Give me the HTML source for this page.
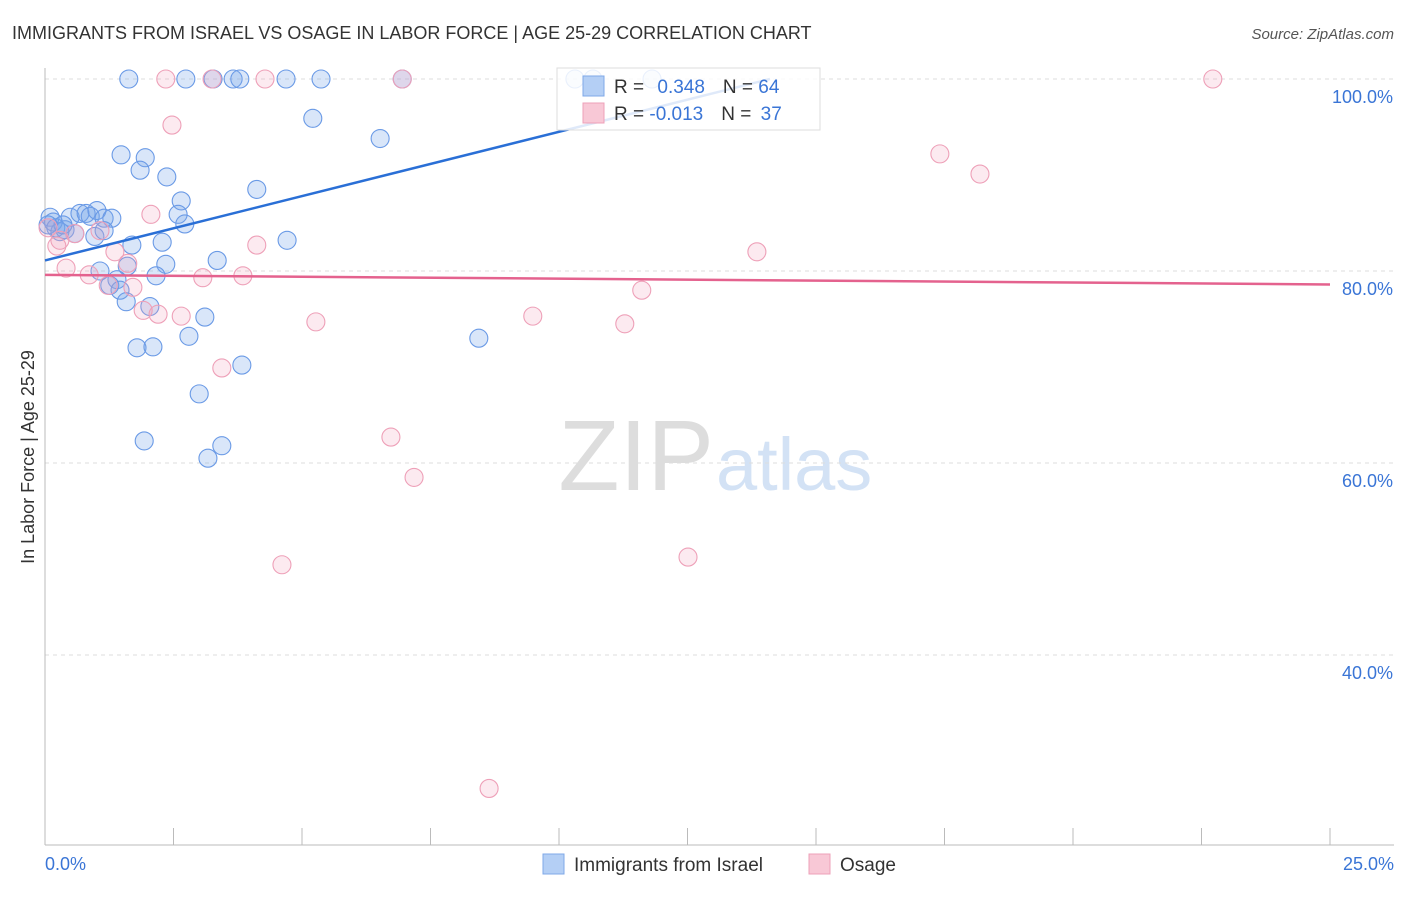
<!DOCTYPE html>
<html><head><meta charset="utf-8"><style>
body{margin:0;background:#fff;font-family:"Liberation Sans",sans-serif}
svg text{font-family:"Liberation Sans",sans-serif}
</style></head><body>
<svg id="c" width="1406" height="892">
<text x="12" y="39" font-size="18" fill="#333">IMMIGRANTS FROM ISRAEL VS OSAGE IN LABOR FORCE | AGE 25-29 CORRELATION CHART</text>
<text x="1394" y="39" font-size="15" fill="#555" text-anchor="end" font-style="italic">Source: ZipAtlas.com</text>
<text x="714" y="490" font-size="100" fill="#ddd" text-anchor="end" font-family="Liberation Serif">ZIP</text>
<text x="716" y="490" font-size="74" fill="#d3e2f5">atlas</text>
<g id="grid"></g><g id="pts"></g><g id="lines"></g>
<text transform="translate(34,457) rotate(-90)" font-size="18" fill="#333" text-anchor="middle">In Labor Force | Age 25-29</text>
<text x="45" y="870" font-size="18" fill="#3a75d6">0.0%</text>
<text x="1394" y="870" font-size="18" fill="#3a75d6" text-anchor="end">25.0%</text>
<g>
<rect x="557" y="68" width="263" height="62" fill="#fff" fill-opacity="0.85" stroke="#ddd"/>
<rect x="583" y="76" width="21" height="20" fill="#b4cff5" stroke="#7fa8e8"/>
<rect x="583" y="103" width="21" height="20" fill="#f8c8d6" stroke="#eea0b8"/>
<text x="614" y="93" font-size="19" fill="#333">R = <tspan fill="#3a75d6" dx="8">0.348</tspan><tspan dx="18" fill="#333">N = </tspan><tspan fill="#3a75d6">64</tspan></text>
<text x="614" y="120" font-size="19" fill="#333">R = <tspan fill="#3a75d6">-0.013</tspan><tspan dx="18" fill="#333">N = </tspan><tspan fill="#3a75d6" dx="4">37</tspan></text>
</g>
<g>
<rect x="543" y="854" width="21" height="20" fill="#b4cff5" stroke="#7fa8e8"/>
<text x="574" y="871" font-size="19" fill="#333">Immigrants from Israel</text>
<rect x="809" y="854" width="21" height="20" fill="#f8c8d6" stroke="#eea0b8"/>
<text x="840" y="871" font-size="19" fill="#333">Osage</text>
</g>
</svg>
<script>
const blueX=[1.63,2.74,3.27,3.66,3.79,4.69,5.37,6.95,10.31,10.66,11.81,5.21,6.52,1.48,1.95,1.85,2.37,4.12,2.65,2.59,2.72,4.71,2.28,1.69,3.35,2.35,2.16,1.60,1.07,1.40,1.26,1.46,1.58,2.04,3.11,2.80,1.79,2.10,3.83,3.00,1.93,3.44,3.17,8.44,0.10,0.16,0.21,0.29,0.39,0.49,0.58,0.68,0.80,0.88,1.01,1.15,1.30,0.97,1.15,0.35,0.06];
const blueY=[100,100,100,100,100,100,100,100,100,100,100,95.9,93.8,92.1,91.8,90.5,89.8,88.5,87.3,85.9,84.9,83.2,83.0,82.7,81.1,80.7,79.5,80.5,80.0,79.1,78.5,78.0,76.8,76.3,75.2,73.2,72.0,72.1,70.2,67.2,62.3,61.8,60.5,73.0,85.6,85.1,84.5,84.1,84.3,85.6,83.9,86.0,86.0,85.7,86.3,85.5,85.5,83.6,84.2,84.8,84.8];
const pinkX=[2.35,4.28,3.25,6.95,22.72,2.47,2.06,17.41,18.19,13.85,4.12,1.36,1.61,0.41,0.23,1.07,0.58,0.86,1.71,3.07,3.85,1.23,1.91,2.20,2.65,5.27,9.49,11.28,11.61,3.44,6.73,7.18,4.61,12.51,8.64,0.06,0.29];
const pinkY=[100,100,100,100,100,95.2,85.9,92.2,90.1,82.0,82.7,82.0,80.8,80.3,82.6,84.2,83.9,79.6,78.3,79.3,79.5,78.5,75.9,75.5,75.3,74.7,75.3,74.5,78.0,69.9,62.7,58.5,49.4,50.2,26.1,84.5,83.2];
const yTicks=[100,80,60,40];
const blueTrend=[81.1,1.34];
const pinkTrend=[79.6,-0.04];
const NS='http://www.w3.org/2000/svg';
const sx=v=>45+v*51.4, sy=v=>79+(100-v)*9.6;
function mk(t,a,p){const e=document.createElementNS(NS,t);for(const k in a)e.setAttribute(k,a[k]);p.appendChild(e);return e;}
const g=document.getElementById('grid');
yTicks.forEach(v=>{const l=mk('line',{x1:45,x2:1394,y1:sy(v),y2:sy(v),stroke:'#ddd','stroke-dasharray':'4,4'},g);


const t=mk('text',{x:1393,y:sy(v)+24,'font-size':18,fill:'#3a75d6','text-anchor':'end'},g);t.textContent=v.toFixed(1)+'%';

});
mk('line',{x1:45,x2:45,y1:68,y2:845,stroke:'#bbb'},g);
mk('line',{x1:45,x2:1394,y1:845,y2:845,stroke:'#bbb'},g);
for(let i=0;i<=10;i++){const l=mk('line',{x1:sx(i*2.5),x2:sx(i*2.5),y1:828,y2:845,stroke:'#bbb'},g);

}
const P=document.getElementById('pts');
blueX.forEach((x,i)=>{const c=mk('circle',{cx:sx(x),cy:sy(blueY[i]),r:9,fill:'rgba(120,165,232,0.28)',stroke:'#6a9ae6','stroke-width':1.1},P);

});
pinkX.forEach((x,i)=>{const c=mk('circle',{cx:sx(x),cy:sy(pinkY[i]),r:9,fill:'rgba(240,160,185,0.22)',stroke:'#eea0b8','stroke-width':1.1},P);

});
const L=document.getElementById('lines');
const xe=(100-blueTrend[0])/blueTrend[1];
const b=mk('line',{x1:sx(0),y1:sy(blueTrend[0]),x2:sx(xe),y2:sy(100),stroke:'#2a6fd6','stroke-width':2.5},L);


const p=mk('line',{x1:sx(0),y1:sy(pinkTrend[0]),x2:sx(25),y2:sy(pinkTrend[0]+25*pinkTrend[1]),stroke:'#e4628e','stroke-width':2.5},L);


</script>
</body></html>
